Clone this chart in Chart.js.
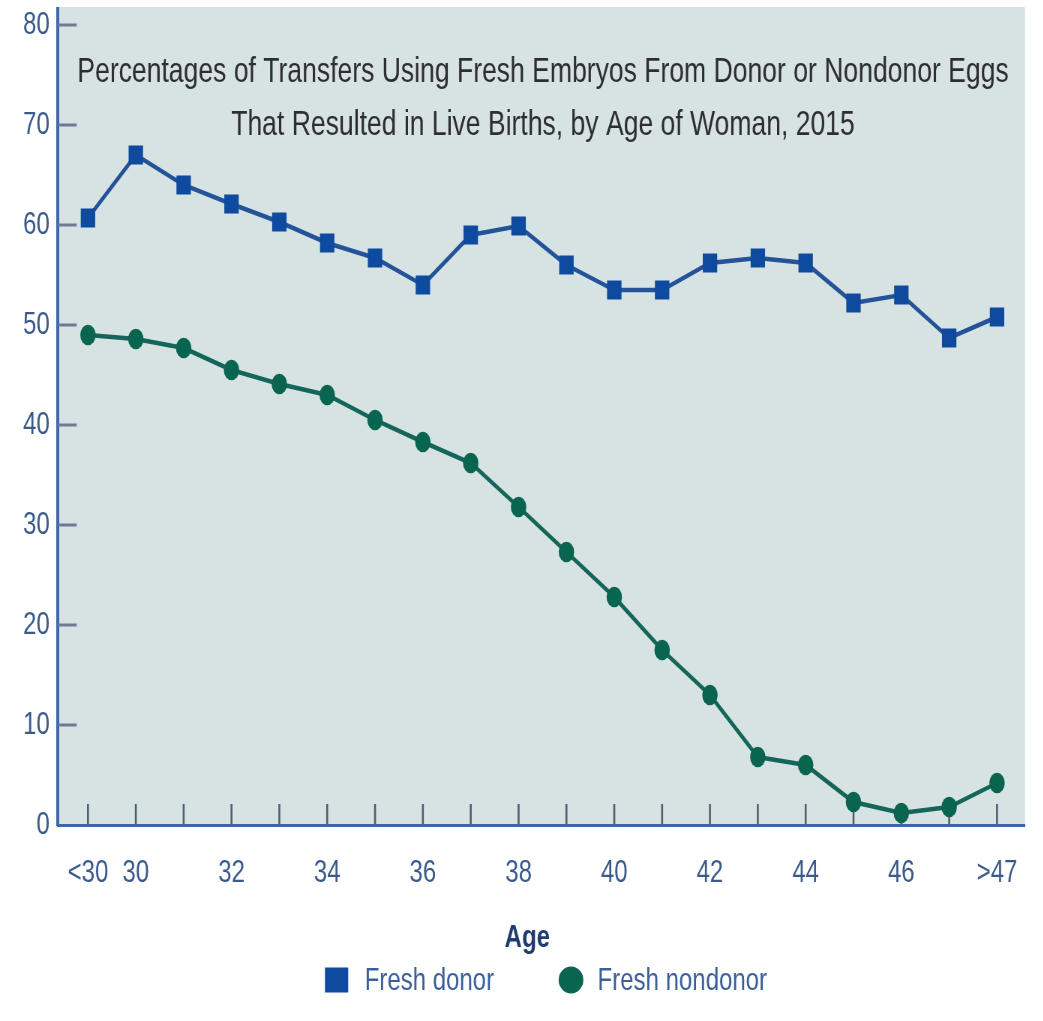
<!DOCTYPE html>
<html>
<head>
<meta charset="utf-8">
<script src="https://cdn.jsdelivr.net/npm/chart.js@4/dist/chart.umd.min.js"></script>
<style>
  html, body { margin: 0; padding: 0; background: #ffffff; overflow: hidden; }
  /* The chart is laid out wide and squeezed horizontally to get the narrow lettering */
  #stage { width: 1391px; height: 1021px; transform: scaleX(0.75); transform-origin: 0 0; }
</style>
</head>
<body>
<div id="stage"><canvas id="chart"></canvas></div>
<script>
// Age groups on the x axis
const ageLabels = ['<30', '30', '31', '32', '33', '34', '35', '36', '37', '38', '39',
                   '40', '41', '42', '43', '44', '45', '46', '47', '>47'];
// Which age groups get a printed label
const shownAgeTicks = ['<30', '30', '32', '34', '36', '38', '40', '42', '44', '46', '>47'];
// Percent of transfers resulting in live births
const freshDonor = [60.7, 67.0, 64.0, 62.1, 60.3, 58.2, 56.7, 54.0, 59.0, 59.9,
                    56.0, 53.5, 53.5, 56.2, 56.7, 56.2, 52.2, 53.0, 48.7, 50.8];
const freshNondonor = [49.0, 48.6, 47.7, 45.5, 44.1, 43.0, 40.5, 38.3, 36.2, 31.8,
                       27.3, 22.8, 17.5, 13.0, 6.8, 6.0, 2.3, 1.2, 1.8, 4.2];
// Y axis tick values
const yTickValues = [0, 10, 20, 30, 40, 50, 60, 70, 80];
const titleLines = [
  'Percentages of Transfers Using Fresh Embryos From Donor or Nondonor Eggs',
  'That Resulted in Live Births, by Age of Woman, 2015'
];
const axisTitle = 'Age';
const seriesNames = ['Fresh donor', 'Fresh nondonor'];

// The shaded panel reaches a little above the last tick
const panelTopValue = 81.8;

const FONT = '"Liberation Sans", Arial, Helvetica, sans-serif';
const DONOR_LINE = '#24539a', DONOR_MARK = '#0e4b9f';
const NONDONOR_LINE = '#15665a', NONDONOR_MARK = '#0a6550';
const AXIS_BLUE = '#3c67ac';
const TICK_TEXT = '#3b5a8a';

const toPoints = vals => vals.map((v, i) => ({ x: i, y: v }));

// Shaded plotting panel, plus the axis line up to the panel top
const plotBackground = {
  id: 'plotBackground',
  beforeDraw(chart) {
    const { ctx, chartArea: a, scales: { y } } = chart;
    const top = y.getPixelForValue(panelTopValue);
    ctx.save();
    ctx.fillStyle = '#d7e3e2';
    ctx.fillRect(a.left, top, a.right - a.left, a.bottom - top);
    ctx.restore();
  },
  afterDraw(chart) {
    const { ctx, chartArea: a, scales: { y } } = chart;
    const top = y.getPixelForValue(panelTopValue);
    const px = Math.round(a.left);
    ctx.save();
    ctx.strokeStyle = AXIS_BLUE;
    ctx.lineWidth = 4;
    ctx.beginPath(); ctx.moveTo(px, top); ctx.lineTo(px, a.top + 1); ctx.stroke();
    ctx.restore();
  }
};

// Tick marks pointing into the plotting area, and the title inside it
const innerDecor = {
  id: 'innerDecor',
  beforeDatasetsDraw(chart) {
    const { ctx, chartArea: a, scales: { x, y } } = chart;
    ctx.save();
    ctx.lineCap = 'butt';
    ctx.strokeStyle = '#6b7b91';
    ctx.lineWidth = 3;
    y.ticks.forEach(t => {
      if (t.value === 0) return;
      const py = y.getPixelForValue(t.value);
      ctx.beginPath(); ctx.moveTo(a.left, py); ctx.lineTo(a.left + 25, py); ctx.stroke();
    });
    ctx.strokeStyle = '#4e5e76';
    ctx.lineWidth = 2.6;
    x.ticks.forEach(t => {
      const px = x.getPixelForValue(t.value);
      ctx.beginPath(); ctx.moveTo(px, a.bottom); ctx.lineTo(px, a.bottom - 21); ctx.stroke();
    });

    const panelTop = y.getPixelForValue(panelTopValue);
    ctx.font = '35.4px ' + FONT;
    ctx.fillStyle = '#2e2e2e';
    ctx.textAlign = 'center';
    ctx.textBaseline = 'alphabetic';
    const cx = (a.left + a.right) / 2 + 2;
    titleLines.forEach((s, i) => ctx.fillText(s, cx, panelTop + 75 + i * 53));
    ctx.restore();
  }
};

// Axis title and legend row below the x axis
const bottomLegend = {
  id: 'bottomLegend',
  afterDraw(chart) {
    const { ctx, chartArea: a } = chart;
    const mid = (a.left + a.right) / 2;
    ctx.save();
    ctx.textBaseline = 'middle';
    ctx.textAlign = 'center';
    ctx.font = 'bold 32px ' + FONT;
    ctx.fillStyle = '#1f3d70';
    ctx.fillText(axisTitle, mid - 19, a.bottom + 113);

    ctx.font = '32px ' + FONT;
    ctx.textAlign = 'left';
    const markW = 31, gap = 22, itemGap = 87;
    const w0 = ctx.measureText(seriesNames[0]).width;
    const w1 = ctx.measureText(seriesNames[1]).width;
    const total = markW + gap + w0 + itemGap + markW + gap + w1;
    const x0 = mid + 7 - total / 2;
    const cy = a.bottom + 155;
    ctx.fillStyle = DONOR_MARK;
    ctx.fillRect(x0, cy - 12.5, markW, 25);
    ctx.fillStyle = '#3a5f9a';
    ctx.fillText(seriesNames[0], x0 + markW + gap, cy + 1);
    const x1 = x0 + markW + gap + w0 + itemGap;
    ctx.fillStyle = NONDONOR_MARK;
    ctx.beginPath();
    ctx.ellipse(x1 + markW / 2, cy, markW / 2 + 1, 13.5, 0, 0, Math.PI * 2);
    ctx.fill();
    ctx.fillStyle = '#3a5f9a';
    ctx.fillText(seriesNames[1], x1 + markW + gap - 2, cy + 1);
    ctx.restore();
  }
};

new Chart(document.getElementById('chart'), {
  type: 'line',
  data: {
    datasets: [
      {
        label: seriesNames[0],
        data: toPoints(freshDonor),
        borderColor: DONOR_LINE,
        borderWidth: 4.5,
        pointStyle: 'rect',
        pointRadius: 13.6,
        pointBackgroundColor: DONOR_MARK,
        pointBorderColor: DONOR_MARK,
        pointBorderWidth: 0,
        tension: 0
      },
      {
        label: seriesNames[1],
        data: toPoints(freshNondonor),
        borderColor: NONDONOR_LINE,
        borderWidth: 4.5,
        pointStyle: 'circle',
        pointRadius: 10.3,
        pointBackgroundColor: NONDONOR_MARK,
        pointBorderColor: NONDONOR_MARK,
        pointBorderWidth: 0,
        tension: 0
      }
    ]
  },
  options: {
    responsive: true,
    maintainAspectRatio: false,
    animation: false,
    events: [],
    layout: { padding: { top: 7, right: 24.3, bottom: 0, left: 0 } },
    plugins: {
      legend: { display: false },
      tooltip: { enabled: false },
      title: { display: false }
    },
    scales: {
      x: {
        type: 'linear',
        min: -0.627,
        max: 19.585,
        afterBuildTicks: scale => { scale.ticks = ageLabels.map((_, i) => ({ value: i })); },
        afterFit: scale => { scale.height = 196; scale.paddingLeft = 0; scale.paddingRight = 0; },
        grid: { display: true, drawOnChartArea: false, drawTicks: false },
        border: { display: true, color: AXIS_BLUE, width: 3 },
        ticks: {
          autoSkip: false,
          maxRotation: 0,
          padding: 29,
          color: TICK_TEXT,
          font: { family: FONT, size: 32 },
          callback: v => shownAgeTicks.includes(ageLabels[v]) ? ageLabels[v] : ''
        }
      },
      y: {
        type: 'linear',
        min: 0,
        max: 81.14,
        afterBuildTicks: scale => { scale.ticks = yTickValues.map(v => ({ value: v })); },
        afterFit: scale => { scale.width = 77.3; scale.paddingTop = 0; scale.paddingBottom = 0; },
        grid: { display: true, drawOnChartArea: false, drawTicks: false },
        border: { display: true, color: AXIS_BLUE, width: 4 },
        ticks: {
          padding: 11,
          color: TICK_TEXT,
          font: { family: FONT, size: 32 }
        }
      }
    }
  },
  plugins: [plotBackground, innerDecor, bottomLegend]
});
</script>
</body>
</html>
